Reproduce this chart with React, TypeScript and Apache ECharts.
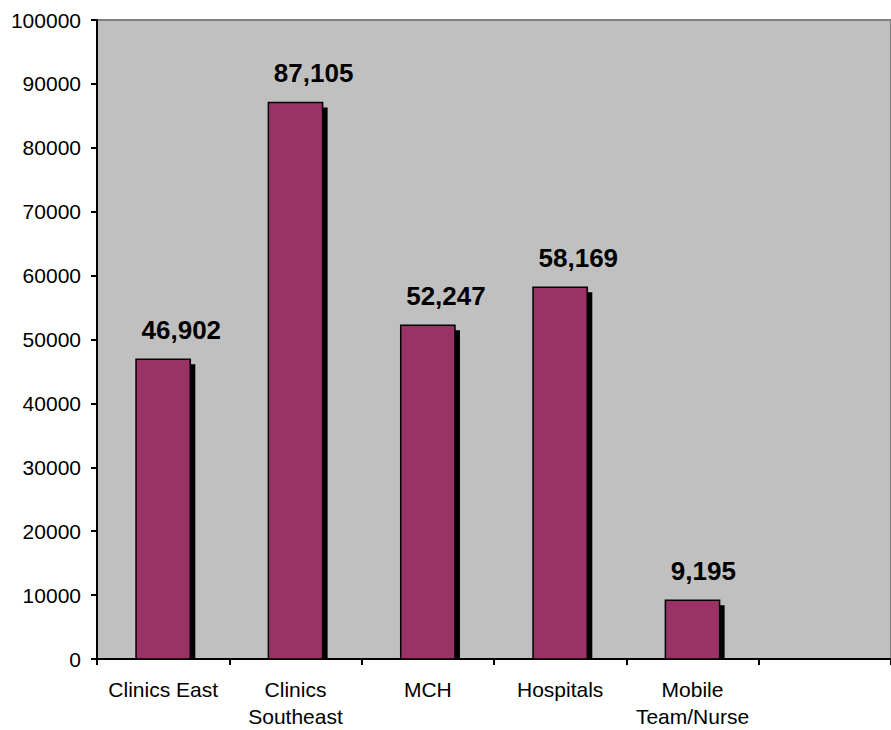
import React, { useEffect, useRef } from "react";
import * as echarts from "echarts";

const categories = ["Clinics East", "Clinics\nSoutheast", "MCH", "Hospitals", "Mobile\nTeam/Nurse"];
const emptySlots = [""];
const values = [46902, 87105, 52247, 58169, 9195];
const yMin = 0;
const yMax = 100000;
const yInterval = 10000;

const FONT = "'Liberation Sans', Arial, Helvetica, sans-serif";

export default function App() {
  const ref = useRef<HTMLDivElement>(null);
  useEffect(() => {
    if (!ref.current) return;
    const chart = echarts.init(ref.current, undefined, { renderer: "svg" });
    const option: any = {
      animation: false,
      backgroundColor: "#ffffff",
      grid: {
        left: 97,
        right: -6,
        top: 20,
        bottom: 70,
        show: true,
        backgroundColor: "#c0c0c0",
        borderColor: "#808080",
        borderWidth: 2,
      },
      xAxis: {
        type: "category",
        data: [...categories, ...emptySlots],
        boundaryGap: true,
        axisLine: { show: true, lineStyle: { color: "#000", width: 2 } },
        axisTick: { show: true, length: 6, lineStyle: { color: "#000", width: 2 } },
        axisLabel: {
          interval: 0,
          color: "#000",
          fontFamily: FONT,
          fontSize: 21,
          lineHeight: 27,
          margin: 17,
        },
        splitLine: { show: false },
      },
      yAxis: {
        type: "value",
        min: yMin,
        max: yMax,
        interval: yInterval,
        axisLine: { show: true, lineStyle: { color: "#000", width: 2 } },
        axisTick: { show: true, length: 6, lineStyle: { color: "#000", width: 2 } },
        axisLabel: {
          color: "#000",
          fontFamily: FONT,
          fontSize: 21,
          margin: 16,
          formatter: (v: number) => String(v),
        },
        splitLine: { show: false },
      },
      series: [
        {
          type: "custom",
          data: values.map((v, i) => [i, v]),
          renderItem: (params: any, api: any) => {
            const xi = api.value(0);
            const v = api.value(1);
            const top = api.coord([xi, v]);
            const base = api.coord([xi, 0]);
            const slot = api.size([1, 0])[0];
            const w = slot * 0.41;
            const left = top[0] - w / 2;
            const h = base[1] - top[1];
            const off = 5;
            return {
              type: "group",
              children: [
                {
                  type: "rect",
                  shape: { x: left + off, y: top[1] + off, width: w, height: Math.max(0, h - off) },
                  style: { fill: "#000" },
                },
                {
                  type: "rect",
                  shape: { x: left, y: top[1], width: w, height: h },
                  style: { fill: "#993366", stroke: "#000", lineWidth: 1.5 },
                },
                {
                  type: "text",
                  style: {
                    text: Number(v).toLocaleString("en-US"),
                    x: left + 5.5,
                    y: top[1] - 29,
                    fill: "#000",
                    font: `bold 26px ${FONT}`,
                    align: "left",
                    verticalAlign: "middle",
                  },
                },
              ],
            };
          },
        },
      ],
    };
    chart.setOption(option);
    return () => chart.dispose();
  }, []);
  return (
    <div
      ref={ref}
      style={{ position: "fixed", left: 0, top: 0, width: 891, height: 730 }}
    />
  );
}
